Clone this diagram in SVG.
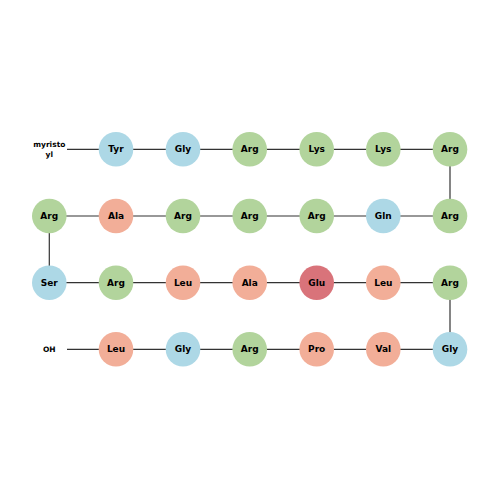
<svg xmlns="http://www.w3.org/2000/svg" width="500" height="500" viewBox="0 0 500 500">
<style>
.b{fill:#add8e6}.g{fill:#b2d49c}.s{fill:#f2ae98}.r{fill:#d9737a}
circle{stroke:none}
text{font-family:"DejaVu Sans",sans-serif;font-weight:bold;text-anchor:middle;dominant-baseline:central;fill:#000}
.n{font-size:9px}.e{font-size:7.5px}
#connectors line{stroke:#333;stroke-width:1.2}
</style>
<rect width="500" height="500" fill="#fff"/>
<g id="connectors">
<line x1="67" y1="149.3" x2="450" y2="149.3"/>
<line x1="49.3" y1="216" x2="450" y2="216"/>
<line x1="49.3" y1="282.7" x2="450" y2="282.7"/>
<line x1="67" y1="349.3" x2="450" y2="349.3"/>
<line x1="450" y1="149.3" x2="450" y2="216"/>
<line x1="49.3" y1="216" x2="49.3" y2="282.7"/>
<line x1="450" y1="282.7" x2="450" y2="349.3"/>
</g>
<g id="myristoyl"><text class="e" x="49.3" y="144.5">myristo</text><text class="e" x="49.3" y="154">yl</text></g>
<g id="OH"><text class="e" x="49.3" y="349.3">OH</text></g>
<g id="n1"><circle class="b" cx="116" cy="149.3" r="17.3"/><text class="n" x="116" y="149.3">Tyr</text></g>
<g id="n2"><circle class="b" cx="183" cy="149.3" r="17.3"/><text class="n" x="183" y="149.3">Gly</text></g>
<g id="n3"><circle class="g" cx="249.7" cy="149.3" r="17.3"/><text class="n" x="249.7" y="149.3">Arg</text></g>
<g id="n4"><circle class="g" cx="316.7" cy="149.3" r="17.3"/><text class="n" x="316.7" y="149.3">Lys</text></g>
<g id="n5"><circle class="g" cx="383.3" cy="149.3" r="17.3"/><text class="n" x="383.3" y="149.3">Lys</text></g>
<g id="n6"><circle class="g" cx="450" cy="149.3" r="17.3"/><text class="n" x="450" y="149.3">Arg</text></g>
<g id="n7"><circle class="g" cx="450" cy="216" r="17.3"/><text class="n" x="450" y="216">Arg</text></g>
<g id="n8"><circle class="b" cx="383.3" cy="216" r="17.3"/><text class="n" x="383.3" y="216">Gln</text></g>
<g id="n9"><circle class="g" cx="316.7" cy="216" r="17.3"/><text class="n" x="316.7" y="216">Arg</text></g>
<g id="n10"><circle class="g" cx="249.7" cy="216" r="17.3"/><text class="n" x="249.7" y="216">Arg</text></g>
<g id="n11"><circle class="g" cx="183" cy="216" r="17.3"/><text class="n" x="183" y="216">Arg</text></g>
<g id="n12"><circle class="s" cx="116" cy="216" r="17.3"/><text class="n" x="116" y="216">Ala</text></g>
<g id="n13"><circle class="g" cx="49.3" cy="216" r="17.3"/><text class="n" x="49.3" y="216">Arg</text></g>
<g id="n14"><circle class="b" cx="49.3" cy="282.7" r="17.3"/><text class="n" x="49.3" y="282.7">Ser</text></g>
<g id="n15"><circle class="g" cx="116" cy="282.7" r="17.3"/><text class="n" x="116" y="282.7">Arg</text></g>
<g id="n16"><circle class="s" cx="183" cy="282.7" r="17.3"/><text class="n" x="183" y="282.7">Leu</text></g>
<g id="n17"><circle class="s" cx="249.7" cy="282.7" r="17.3"/><text class="n" x="249.7" y="282.7">Ala</text></g>
<g id="n18"><circle class="r" cx="316.7" cy="282.7" r="17.3"/><text class="n" x="316.7" y="282.7">Glu</text></g>
<g id="n19"><circle class="s" cx="383.3" cy="282.7" r="17.3"/><text class="n" x="383.3" y="282.7">Leu</text></g>
<g id="n20"><circle class="g" cx="450" cy="282.7" r="17.3"/><text class="n" x="450" y="282.7">Arg</text></g>
<g id="n21"><circle class="b" cx="450" cy="349.3" r="17.3"/><text class="n" x="450" y="349.3">Gly</text></g>
<g id="n22"><circle class="s" cx="383.3" cy="349.3" r="17.3"/><text class="n" x="383.3" y="349.3">Val</text></g>
<g id="n23"><circle class="s" cx="316.7" cy="349.3" r="17.3"/><text class="n" x="316.7" y="349.3">Pro</text></g>
<g id="n24"><circle class="g" cx="249.7" cy="349.3" r="17.3"/><text class="n" x="249.7" y="349.3">Arg</text></g>
<g id="n25"><circle class="b" cx="183" cy="349.3" r="17.3"/><text class="n" x="183" y="349.3">Gly</text></g>
<g id="n26"><circle class="s" cx="116" cy="349.3" r="17.3"/><text class="n" x="116" y="349.3">Leu</text></g>
</svg>
